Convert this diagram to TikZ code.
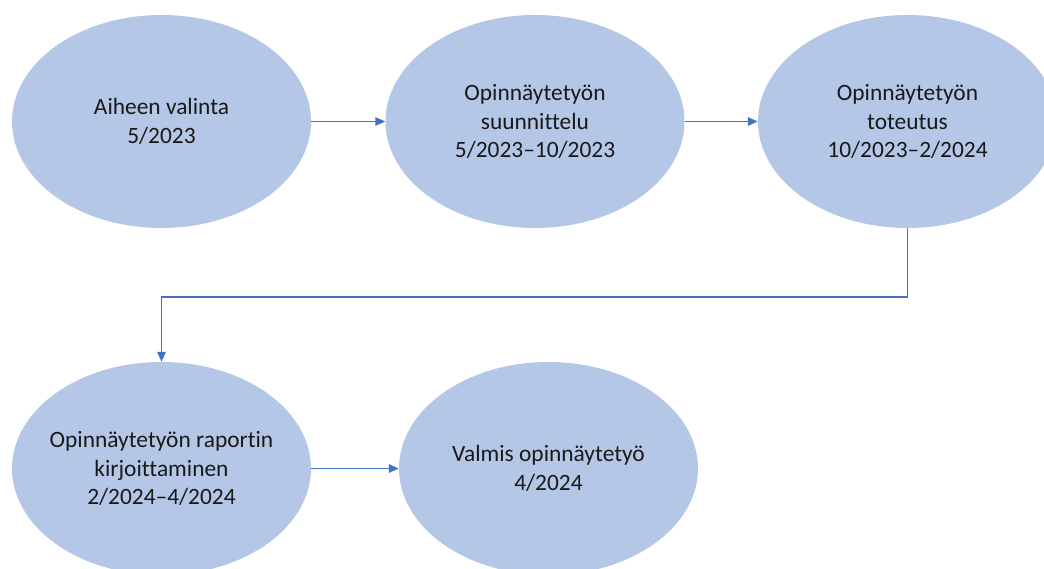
\documentclass[tikz,border=0pt]{standalone}
\usepackage{fontspec}
\setmainfont[Ligatures=NoCommon]{Carlito}
\usetikzlibrary{shapes.geometric,arrows.meta}
\definecolor{phasefill}{HTML}{B4C7E7}
\definecolor{linkblue}{HTML}{4472C4}
\begin{document}
\begin{tikzpicture}[x=1pt,y=-1pt,
  phase/.style={ellipse,fill=phasefill,draw=none,inner sep=0pt,
    minimum width=299pt,minimum height=213pt},
  lbl/.style={align=center,text=black!90,
    font=\fontsize{23.4pt}{28.5pt}\selectfont},
  conn/.style={draw=linkblue,line width=1.4pt,
    -{Triangle[length=10pt,width=8.5pt]}}]
\useasboundingbox (0,0) rectangle (1044,569);
\clip (0,0) rectangle (1044,569);
% phases
\node[phase] (e1) at (161.5,121.5) {};
\node[phase] (e2) at (535,121.5) {};
\node[phase] (e3) at (907.5,121.5) {};
\node[phase] (e4) at (161.5,468.5) {};
\node[phase] (e5) at (548.5,468.5) {};
% texts
\node[lbl] at (e1) {Aiheen valinta\\5/2023};
\node[lbl] at (e2) {Opinnäytetyön\\suunnittelu\\5/2023–10/2023};
\node[lbl] at (e3) {Opinnäytetyön\\toteutus\\10/2023–2/2024};
\node[lbl] at (e4) {Opinnäytetyön raportin\\kirjoittaminen\\2/2024–4/2024};
\node[lbl] at (e5) {Valmis opinnäytetyö\\4/2024};
% connectors
\coordinate (turn) at (907.5,297);
\draw[conn] (e1.east) -- (e2.west);
\draw[conn] (e2.east) -- (e3.west);
\draw[conn] (e3.south) -- (turn) -| (e4.north);
\draw[conn] (e4.east) -- (e5.west);
\end{tikzpicture}
\end{document}
